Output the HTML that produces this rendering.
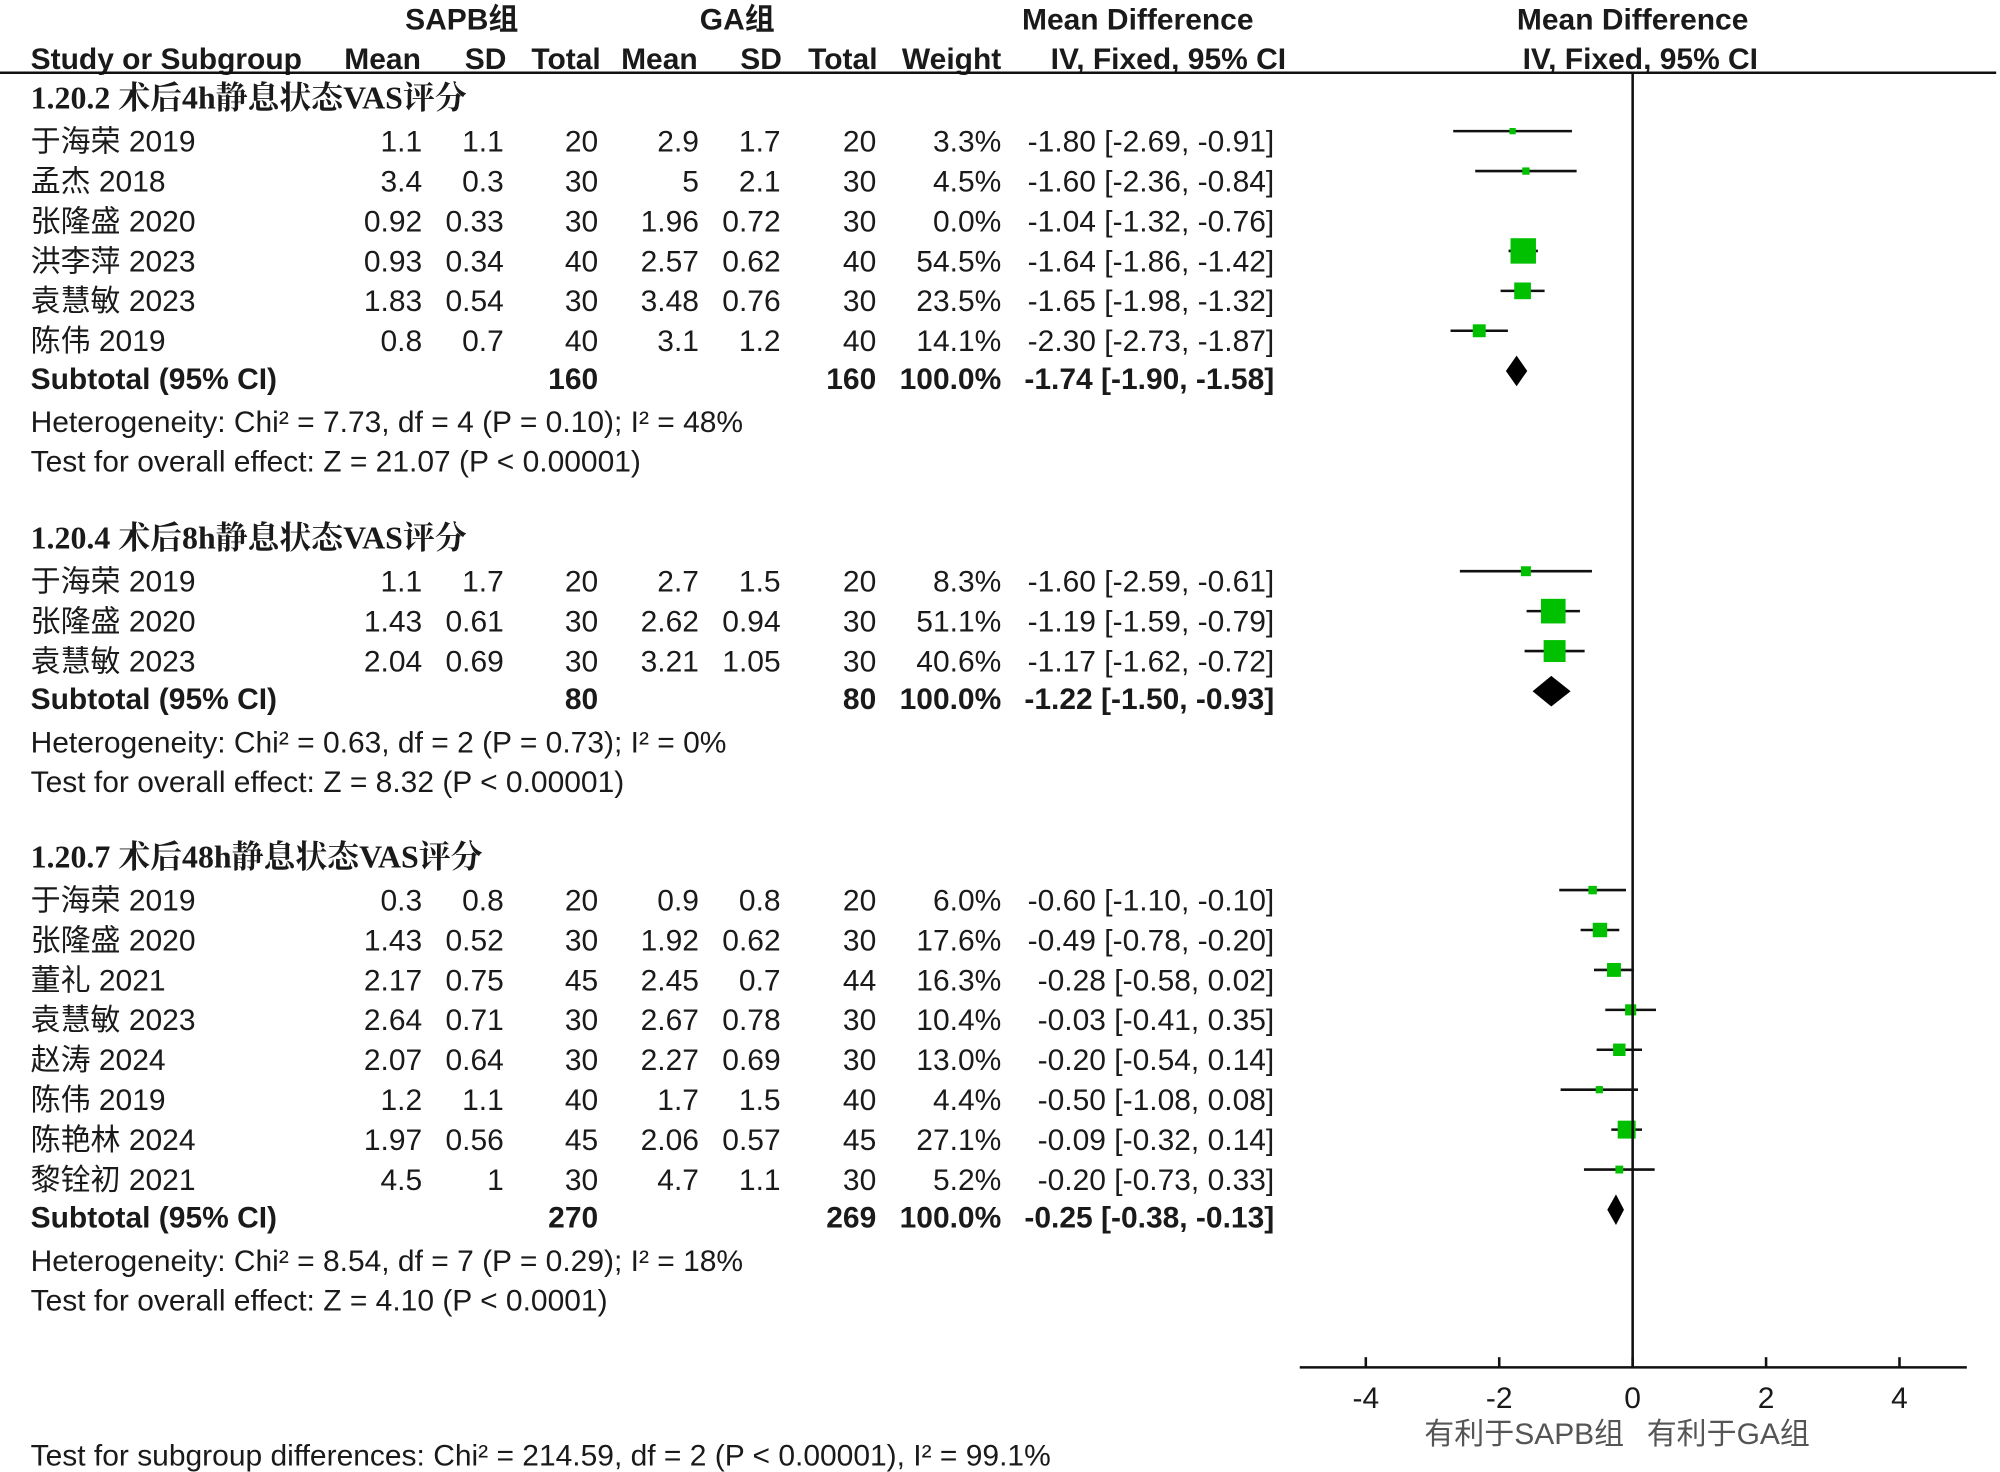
<!DOCTYPE html>
<html><head><meta charset="utf-8"><style>
html,body{margin:0;padding:0;background:#fff;}
svg{display:block;}
text{font-family:"Liberation Sans","Noto Sans CJK SC",sans-serif;fill:#1a1a1a;font-size:23.5px;}
.b{font-weight:bold;}
.h{font-family:"Liberation Serif","Noto Serif CJK SC",serif;font-weight:bold;font-size:25px;}
</style></head><body>
<svg id="c" width="2000" height="1472" viewBox="0 0 1568 1154">
<g id="hdr">
<text x="362" y="23" text-anchor="middle" class="b">SAPB组</text>
<text x="578" y="23" text-anchor="middle" class="b">GA组</text>
<text x="892" y="23" text-anchor="middle" class="b">Mean Difference</text>
<text x="1280" y="23" text-anchor="middle" class="b">Mean Difference</text>
<text x="24" y="54" class="b">Study or Subgroup</text>
<text x="330" y="54" text-anchor="end" class="b">Mean</text>
<text x="397" y="54" text-anchor="end" class="b">SD</text>
<text x="471" y="54" text-anchor="end" class="b">Total</text>
<text x="547" y="54" text-anchor="end" class="b">Mean</text>
<text x="613" y="54" text-anchor="end" class="b">SD</text>
<text x="688" y="54" text-anchor="end" class="b">Total</text>
<text x="785" y="54" text-anchor="end" class="b">Weight</text>
<text x="916" y="54" text-anchor="middle" class="b">IV, Fixed, 95% CI</text>
<text x="1286" y="54" text-anchor="middle" class="b">IV, Fixed, 95% CI</text>
<line x1="0" y1="57" x2="1565" y2="57" stroke="#111" stroke-width="2"/>
</g>
</svg>
<script>
const groupTitles=["1.20.2 术后4h静息状态VAS评分","1.20.4 术后8h静息状态VAS评分","1.20.7 术后48h静息状态VAS评分"];
const studies=[["于海荣 2019","孟杰 2018","张隆盛 2020","洪李萍 2023","袁慧敏 2023","陈伟 2019"],["于海荣 2019","张隆盛 2020","袁慧敏 2023"],["于海荣 2019","张隆盛 2020","董礼 2021","袁慧敏 2023","赵涛 2024","陈伟 2019","陈艳林 2024","黎铨初 2021"]];
const mean1=[["1.1","3.4","0.92","0.93","1.83","0.8"],["1.1","1.43","2.04"],["0.3","1.43","2.17","2.64","2.07","1.2","1.97","4.5"]];
const sd1=[["1.1","0.3","0.33","0.34","0.54","0.7"],["1.7","0.61","0.69"],["0.8","0.52","0.75","0.71","0.64","1.1","0.56","1"]];
const n1=[[20,30,30,40,30,40],[20,30,30],[20,30,45,30,30,40,45,30]];
const mean2=[["2.9","5","1.96","2.57","3.48","3.1"],["2.7","2.62","3.21"],["0.9","1.92","2.45","2.67","2.27","1.7","2.06","4.7"]];
const sd2=[["1.7","2.1","0.72","0.62","0.76","1.2"],["1.5","0.94","1.05"],["0.8","0.62","0.7","0.78","0.69","1.5","0.57","1.1"]];
const n2=[[20,30,30,40,30,40],[20,30,30],[20,30,44,30,30,40,45,30]];
const weights=[[3.3,4.5,0.0,54.5,23.5,14.1],[8.3,51.1,40.6],[6.0,17.6,16.3,10.4,13.0,4.4,27.1,5.2]];
const md=[[-1.80,-1.60,-1.04,-1.64,-1.65,-2.30],[-1.60,-1.19,-1.17],[-0.60,-0.49,-0.28,-0.03,-0.20,-0.50,-0.09,-0.20]];
const lo=[[-2.69,-2.36,-1.32,-1.86,-1.98,-2.73],[-2.59,-1.59,-1.62],[-1.10,-0.78,-0.58,-0.41,-0.54,-1.08,-0.32,-0.73]];
const hi=[[-0.91,-0.84,-0.76,-1.42,-1.32,-1.87],[-0.61,-0.79,-0.72],[-0.10,-0.20,0.02,0.35,0.14,0.08,0.14,0.33]];
const subMd=[-1.74,-1.22,-0.25], subLo=[-1.90,-1.50,-0.38], subHi=[-1.58,-0.93,-0.13];
const subN1=[160,80,270], subN2=[160,80,269];
const hetText=["Heterogeneity: Chi² = 7.73, df = 4 (P = 0.10); I² = 48%","Heterogeneity: Chi² = 0.63, df = 2 (P = 0.73); I² = 0%","Heterogeneity: Chi² = 8.54, df = 7 (P = 0.29); I² = 18%"];
const testText=["Test for overall effect: Z = 21.07 (P < 0.00001)","Test for overall effect: Z = 8.32 (P < 0.00001)","Test for overall effect: Z = 4.10 (P < 0.0001)"];
const ticks=[-4,-2,0,2,4];
const NS="http://www.w3.org/2000/svg", svg=document.getElementById('c');
const X=v=>1280+v*52.3;
function el(tag,attrs,txt){const e=document.createElementNS(NS,tag);for(const k in attrs)e.setAttribute(k,attrs[k]);if(txt!==undefined)e.textContent=txt;svg.appendChild(e);return e;}
function T(x,y,s,anchor,cls){const e=el('text',{x:x,y:y+8,'text-anchor':anchor||'start'},s);if(cls)e.setAttribute('class',cls);return e;}
const f2=v=>v.toFixed(2);
const ci=(m,l,h)=>f2(m)+" ["+f2(l)+", "+f2(h)+"]";
const groupY=[79.5,424.5,674.5];
for(let g=0;g<3;g++){
 let y=groupY[g];
 let t=T(24,y-2.5,groupTitles[g],'start','h');
 
 
 for(let i=0;i<studies[g].length;i++){
  y+=31.3;
  const cells=[[24,studies[g][i],'start'],[331,mean1[g][i],'end'],[395,sd1[g][i],'end'],[469,n1[g][i],'end'],[548,mean2[g][i],'end'],[612,sd2[g][i],'end'],[687,n2[g][i],'end'],[785,weights[g][i].toFixed(1)+"%",'end'],[999,ci(md[g][i],lo[g][i],hi[g][i]),'end']];
  cells.forEach(c=>{const e=T(c[0],y,c[1],c[2]);
   
   });
  if(weights[g][i]<=0) continue;
  const my=y-8;
  const ln=el('line',{x1:X(lo[g][i]),x2:X(hi[g][i]),y1:my,y2:my,stroke:'#111','stroke-width':2});
  
  
  const s=Math.max(4,2.7*Math.sqrt(weights[g][i]));
  const r=el('rect',{x:X(md[g][i])-s/2,y:my-s/2,width:s,height:s,fill:'#00c000'});
  
  
 }
 y+=29.5;
 [[24,"Subtotal (95% CI)",'start'],[469,subN1[g],'end'],[687,subN2[g],'end'],[785,"100.0%",'end'],[999,ci(subMd[g],subLo[g],subHi[g]),'end']].forEach(c=>{const e=T(c[0],y,c[1],c[2],'b');
  
  });
 const dy=y-6;
 const d=el('polygon',{points:`${X(subLo[g])},${dy} ${X(subMd[g])},${dy-12} ${X(subHi[g])},${dy} ${X(subMd[g])},${dy+12}`,fill:'#000'});
 
 
 let h=T(24,y+34,hetText[g]);
 
 
 let o=T(24,y+65,testText[g]);
 
 
}
const z=el('line',{x1:X(0),x2:X(0),y1:57,y2:1072,stroke:'#111','stroke-width':2});


const ax=el('line',{x1:1019,x2:1542,y1:1072,y2:1072,stroke:'#111','stroke-width':2});


ticks.forEach(v=>{
 const tk=el('line',{x1:X(v),x2:X(v),y1:1064,y2:1072,stroke:'#111','stroke-width':2});
 
 
 const tl=T(X(v),1096,String(v),'middle');
 
 
});
let a=T(1195,1124,"有利于SAPB组",'middle');a.style.fill='#555';


let b=T(1355,1124,"有利于GA组",'middle');b.style.fill='#555';


let s=T(24,1141,"Test for subgroup differences: Chi² = 214.59, df = 2 (P < 0.00001), I² = 99.1%");


</script>
</body></html>
